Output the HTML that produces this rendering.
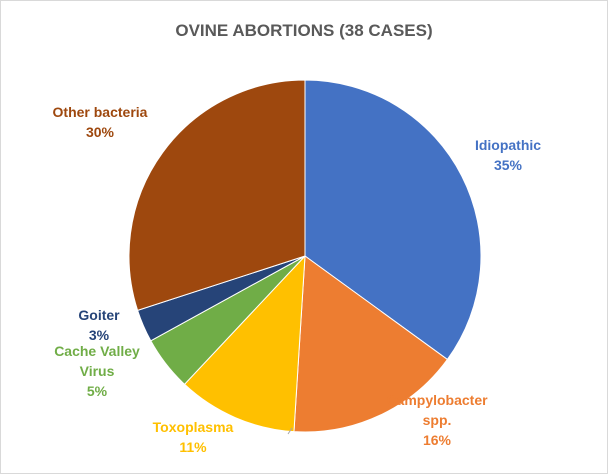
<!DOCTYPE html>
<html><head><meta charset="utf-8"><style>
body{margin:0;background:#fff}
svg{display:block;font-family:"Liberation Sans",sans-serif}
</style></head><body>
<svg width="608" height="474" viewBox="0 0 608 474">
<rect x="0.5" y="0.5" width="607" height="473" fill="#fff" stroke="#d9d9d9"/>
<text x="304" y="36" text-anchor="middle" font-size="17" font-weight="bold" fill="#595959">OVINE ABORTIONS (38 CASES)</text>
<g id="slices"></g>
<g id="labels"></g>
</svg>
<script>
const categories=["Idiopathic","Campylobacter spp.","Toxoplasma","Cache Valley Virus","Goiter","Other bacteria"];
const values=[35,16,11,5,3,30];
const colors=["#4472c4","#ed7d31","#ffc000","#70ad47","#264478","#9e480e"];
const labelLines=[["Idiopathic","35%"],["Campylobacter","spp.","16%"],["Toxoplasma","11%"],["Cache Valley","Virus","5%"],["Goiter","3%"],["Other bacteria","30%"]];
const labelPos=[[508,160],[437,425],[193,442],[97,376],[99,330],[100,127]];
const cx=305,cy=256,r=176,NS="http://www.w3.org/2000/svg";
const total=values.reduce((a,b)=>a+b,0);
const sg=document.getElementById('slices'),lg=document.getElementById('labels');
function pt(a,rr){return [cx+rr*Math.sin(a),cy-rr*Math.cos(a)];}
let a0=0;
values.forEach((v,i)=>{
 const a1=a0+v/total*2*Math.PI;
 const p0=pt(a0,r),p1=pt(a1,r),large=(a1-a0)>Math.PI?1:0;
 const p=document.createElementNS(NS,'path');
 p.setAttribute('d',`M${cx},${cy}L${p0[0]},${p0[1]}A${r},${r} 0 ${large} 1 ${p1[0]},${p1[1]}Z`);
 p.setAttribute('fill',colors[i]);p.setAttribute('stroke','#fff');p.setAttribute('stroke-width','1');
 
 
 sg.appendChild(p);
 a0=a1;
});
// toxoplasma leader line
const ln=document.createElementNS(NS,'line');
ln.setAttribute('x1',292);ln.setAttribute('y1',428);ln.setAttribute('x2',288);ln.setAttribute('y2',434);
ln.setAttribute('stroke','#a6a6a6');


lg.appendChild(ln);
labelLines.forEach((lines,i)=>{
 const t=document.createElementNS(NS,'text');
 t.setAttribute('text-anchor','middle');t.setAttribute('font-size','14');t.setAttribute('font-weight','bold');t.setAttribute('fill',colors[i]);
 
 
 const start=labelPos[i][1]-(lines.length-1)*10;
 lines.forEach((s,j)=>{const ts=document.createElementNS(NS,'tspan');ts.setAttribute('x',labelPos[i][0]);ts.setAttribute('y',start+j*20);ts.textContent=s;t.appendChild(ts);});
 lg.appendChild(t);
});
</script>
</body></html>
